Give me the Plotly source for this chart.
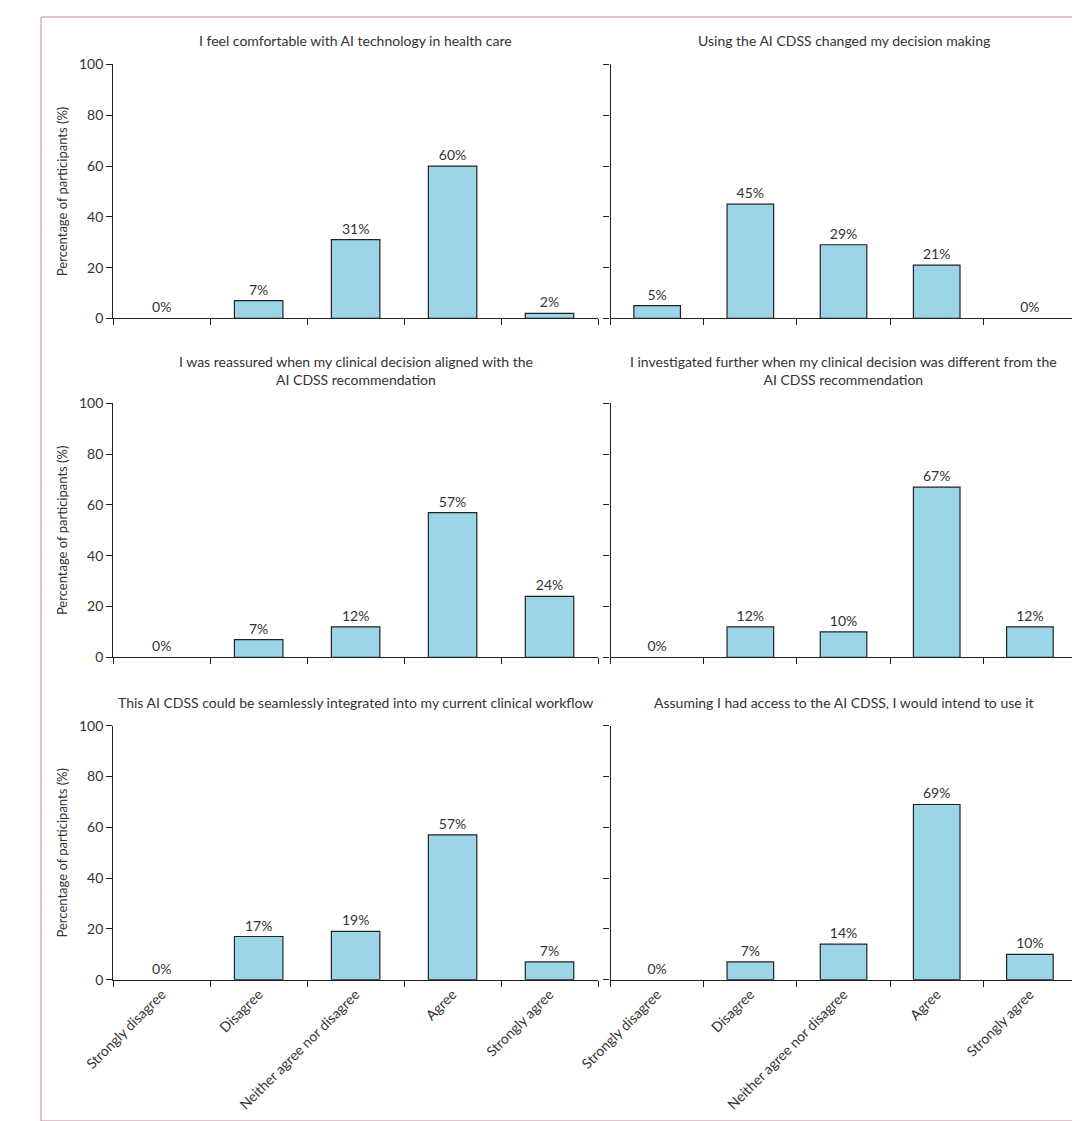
import plotly.graph_objects as go
from plotly.subplots import make_subplots

categories = ["Strongly disagree", "Disagree", "Neither agree nor disagree", "Agree", "Strongly agree"]
titles = [
    "I feel comfortable with AI technology in health care",
    "Using the AI CDSS changed my decision making",
    "I was reassured when my clinical decision aligned with the<br>AI CDSS recommendation",
    "I investigated further when my clinical decision was different from the<br>AI CDSS recommendation",
    "This AI CDSS could be seamlessly integrated into my current clinical workflow",
    "Assuming I had access to the AI CDSS, I would intend to use it",
]
comfortable = [0, 7, 31, 60, 2]
changed = [5, 45, 29, 21, 0]
reassured = [0, 7, 12, 57, 24]
investigated = [0, 12, 10, 67, 12]
integrated = [0, 17, 19, 57, 7]
intend = [0, 7, 14, 69, 10]
series = [comfortable, changed, reassured, investigated, integrated, intend]

font = "Lato"
fig = make_subplots(rows=3, cols=2)

xdom = [[0.069, 0.532], [0.544, 0.989]]
ydom = [[0.727, 0.957], [0.420, 0.650], [0.128, 0.358]]

for i, vals in enumerate(series):
    r, c = i // 2 + 1, i % 2 + 1
    fig.add_trace(go.Bar(
        x=categories, y=vals, text=[f"{v}%" for v in vals], textposition="outside",
        textfont=dict(size=14, color="#333"), cliponaxis=False,
        marker=dict(color="#9dd5e8",
                    line=dict(color="#222", width=[0 if v == 0 else 1.2 for v in vals])),
        width=0.5, showlegend=False), row=r, col=c)
    n = i + 1
    ax = "" if n == 1 else str(n)
    fig.layout["xaxis" + ax].update(
        domain=xdom[c - 1], tickson="boundaries", ticks="outside", ticklen=6,
        showline=True, linecolor="#222", linewidth=1.2, tickcolor="#222",
        showticklabels=(r == 3), tickangle=-45, tickfont=dict(size=14, color="#333"))
    fig.layout["yaxis" + ax].update(
        domain=ydom[r - 1], range=[0, 100], dtick=20, ticks="outside", ticklen=6,
        showline=True, linecolor="#222", linewidth=1.2, tickcolor="#222",
        showgrid=False, zeroline=False, showticklabels=(c == 1),
        tickfont=dict(size=14, color="#333"))
    if c == 1:
        fig.layout["yaxis" + ax].title = dict(text="Percentage of participants (%)",
                                              font=dict(size=13, color="#333"), standoff=8)
    fig.add_annotation(text=titles[i], xref="paper", yref="paper",
                       x=sum(xdom[c - 1]) / 2, y=ydom[r - 1][1] + 0.012,
                       xanchor="center", yanchor="bottom", showarrow=False,
                       font=dict(size=14, color="#333"))

fig.add_shape(type="rect", xref="paper", yref="paper", x0=0, y0=0, x1=1, y1=1,
              line=dict(color="#c7869b", width=1))
fig.update_layout(autosize=True, margin=dict(l=0, r=0, t=0, b=0),
                  plot_bgcolor="white", paper_bgcolor="white",
                  font=dict(family=font, color="#333"), bargap=0.5)
fig.write_html("out.html", default_width="1080px", default_height="1121px",
               config={"responsive": False})
